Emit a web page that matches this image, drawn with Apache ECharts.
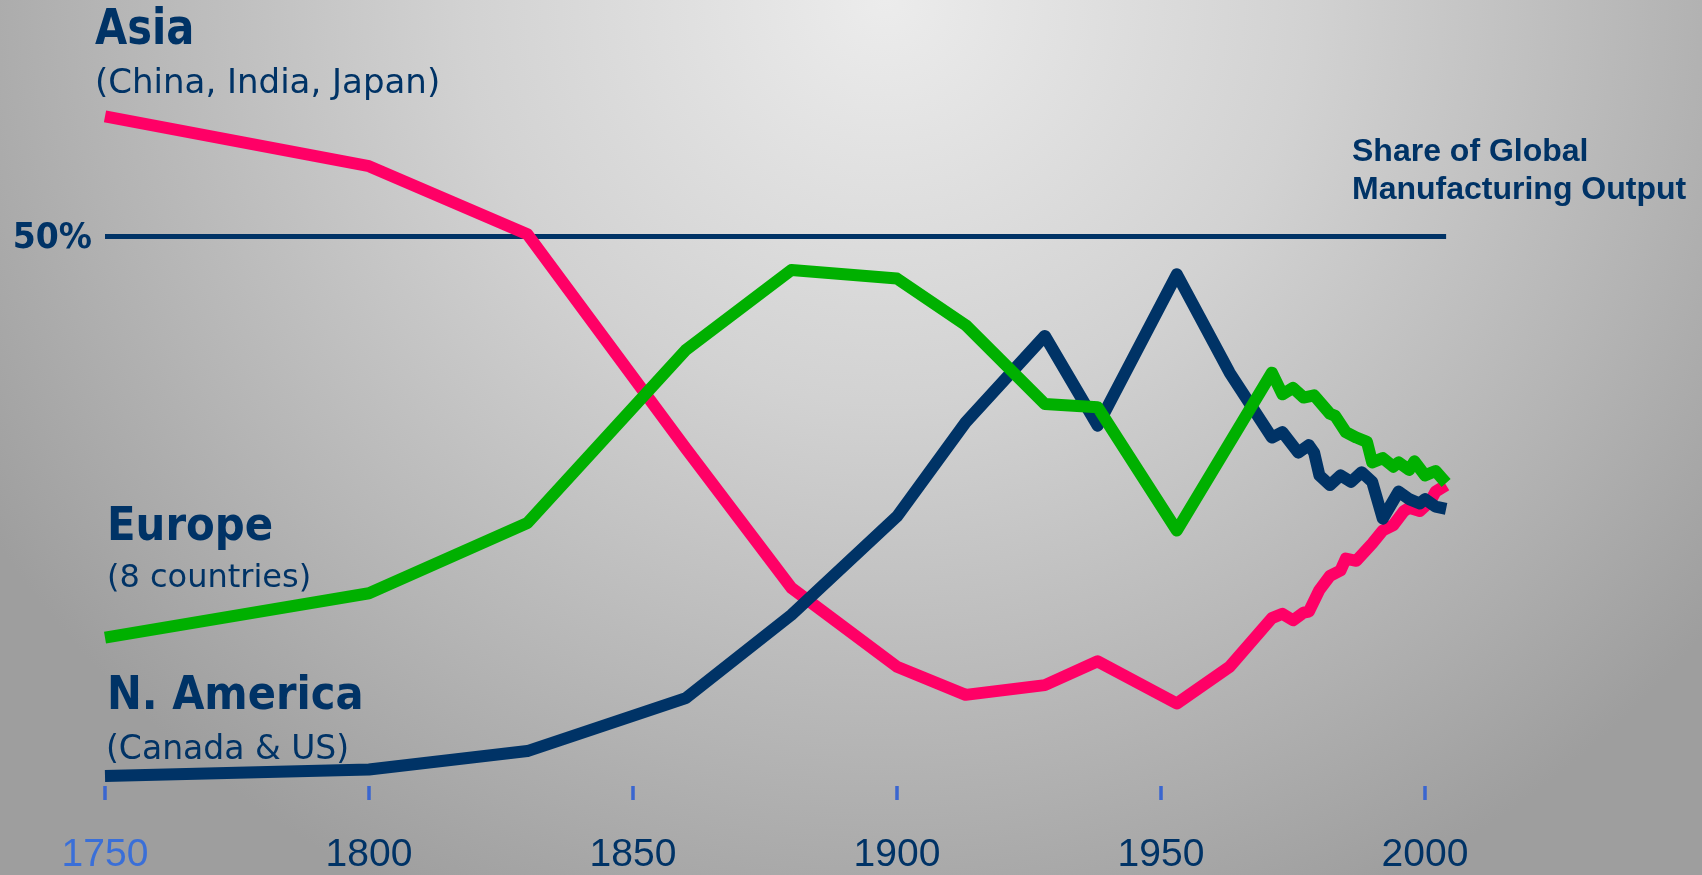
<!DOCTYPE html>
<html>
<head>
<meta charset="utf-8">
<script src="https://cdn.jsdelivr.net/npm/echarts@6/dist/echarts.min.js"></script>
<style>
html,body{margin:0;padding:0;}
#chart{width:1702px;height:875px;
background: radial-gradient(ellipse 62% 115% at 52% 0%, #ececec 0%, #d2d2d2 40%, #b4b4b4 75%, #9e9e9e 100%);}
</style>
</head>
<body>
<div id="chart"></div>
<script>
// ---- data (share of global manufacturing output, %) ----
const tickYears = [1750, 1800, 1850, 1900, 1950, 2000];

const asiaYears  = [1750,1800,1830,1860,1880,1900,1913,1928,1938,1953,1963,1971,1973,1975,1977,1978,1980,1982,1984,1985,1987,1990,1992,1994,1996,1997,1999,2001,2002,2004];
const asiaValues = [61.1,56.5,50.2,30.4,17.5,10.2,7.6,8.5,10.7,6.8,10.2,14.7,15.1,14.5,15.2,15.3,17.3,18.6,19.1,20.2,20.0,21.6,22.8,23.3,24.6,24.9,24.6,25.5,26.4,27.0];

const europeYears  = [1750,1800,1830,1860,1880,1900,1913,1928,1938,1953,1971,1973,1975,1977,1979,1982,1983,1985,1987,1989,1990,1992,1994,1995,1997,1998,2000,2002,2004];
const europeValues = [12.9,17.0,23.5,39.5,46.9,46.1,41.8,34.5,34.2,22.8,37.4,35.4,36.0,35.1,35.3,33.6,33.4,31.9,31.4,31.0,29.1,29.5,28.7,29.1,28.4,29.2,27.9,28.3,27.2];

const americaYears  = [1750,1800,1830,1860,1880,1900,1913,1928,1938,1953,1963,1971,1973,1976,1978,1979,1980,1982,1984,1986,1988,1990,1992,1995,1997,1999,2000,2002,2004];
const americaValues = [0.1,0.7,2.4,7.3,15.0,24.1,32.8,40.8,32.5,46.5,37.4,31.4,31.9,30.0,30.7,30.0,27.9,27.0,27.9,27.3,28.2,27.3,23.9,26.4,25.7,25.3,25.7,25.0,24.8];

const refYears  = [1750, 2004];
const refValues = [50, 50];

const NAVY = '#003366', PINK = '#ff0066', GREEN = '#00b000';

function pairs(xs, ys) { return xs.map((x, i) => [x, ys[i]]); }

const chart = echarts.init(document.getElementById('chart'), null, {renderer: 'canvas'});

function lineSeries(name, data, color, width, z) {
  return {
    name, type: 'line', data, z,
    symbol: 'none', showSymbol: false, clip: false, animation: false,
    lineStyle: {color, width, join: 'round', cap: 'butt'},
    emphasis: {disabled: true}
  };
}

const txt = (text, x, y, font, align, sx) => ({
  type: 'text', silent: true, x, y, scaleX: sx || 1,
  style: {text, x: 0, y: 0, font, fill: NAVY, align: align || 'left', verticalAlign: 'middle'}
});

chart.setOption({
  backgroundColor: 'transparent',
  animation: false,
  grid: {left: 105, right: 13, top: 20.2, bottom: 87, containLabel: false},
  xAxis: {
    type: 'value', min: 1750, max: 2050,
    axisLine: {show: false, onZero: false},
    splitLine: {show: false},
    axisTick: {show: true, length: 14, customValues: tickYears,
      lineStyle: {color: '#3a66d0', width: 3.5}},
    axisLabel: {
      customValues: tickYears, margin: 50,
      fontSize: 39, fontFamily: '"Liberation Sans", Arial, sans-serif',
      formatter: v => String(v),
      color: (v) => (String(v) === '1750' ? '#3a6fd8' : NAVY)
    }
  },
  yAxis: {type: 'value', min: -0.83, max: 70, show: false},
  series: [
    lineSeries('50%', pairs(refYears, refValues), NAVY, 5, 1),
    lineSeries('Asia', pairs(asiaYears, asiaValues), PINK, 12, 2),
    lineSeries('N. America', pairs(americaYears, americaValues), NAVY, 12, 3),
    lineSeries('Europe', pairs(europeYears, europeValues), GREEN, 12, 4)
  ],
  graphic: [
    txt('Asia', 95, 31, 'bold 49px "DejaVu Sans"', 'left', 0.85),
    txt('(China, India, Japan)', 95, 84, '34px "DejaVu Sans"'),
    txt('Europe', 107, 528, 'bold 46px "DejaVu Sans"', 'left', 0.91),
    txt('(8 countries)', 107, 579, '32px "DejaVu Sans"'),
    txt('N. America', 107, 697, 'bold 46px "DejaVu Sans"', 'left', 0.905),
    txt('(Canada & US)', 106, 750, '33px "DejaVu Sans"'),
    txt('50%', 92, 239, 'bold 36px "DejaVu Sans"', 'right', 0.92),
    txt('Share of Global', 1352, 152, 'bold 32px "Liberation Sans"'),
    txt('Manufacturing Output', 1352, 190, 'bold 32px "Liberation Sans"')
  ]
});
</script>
</body>
</html>
